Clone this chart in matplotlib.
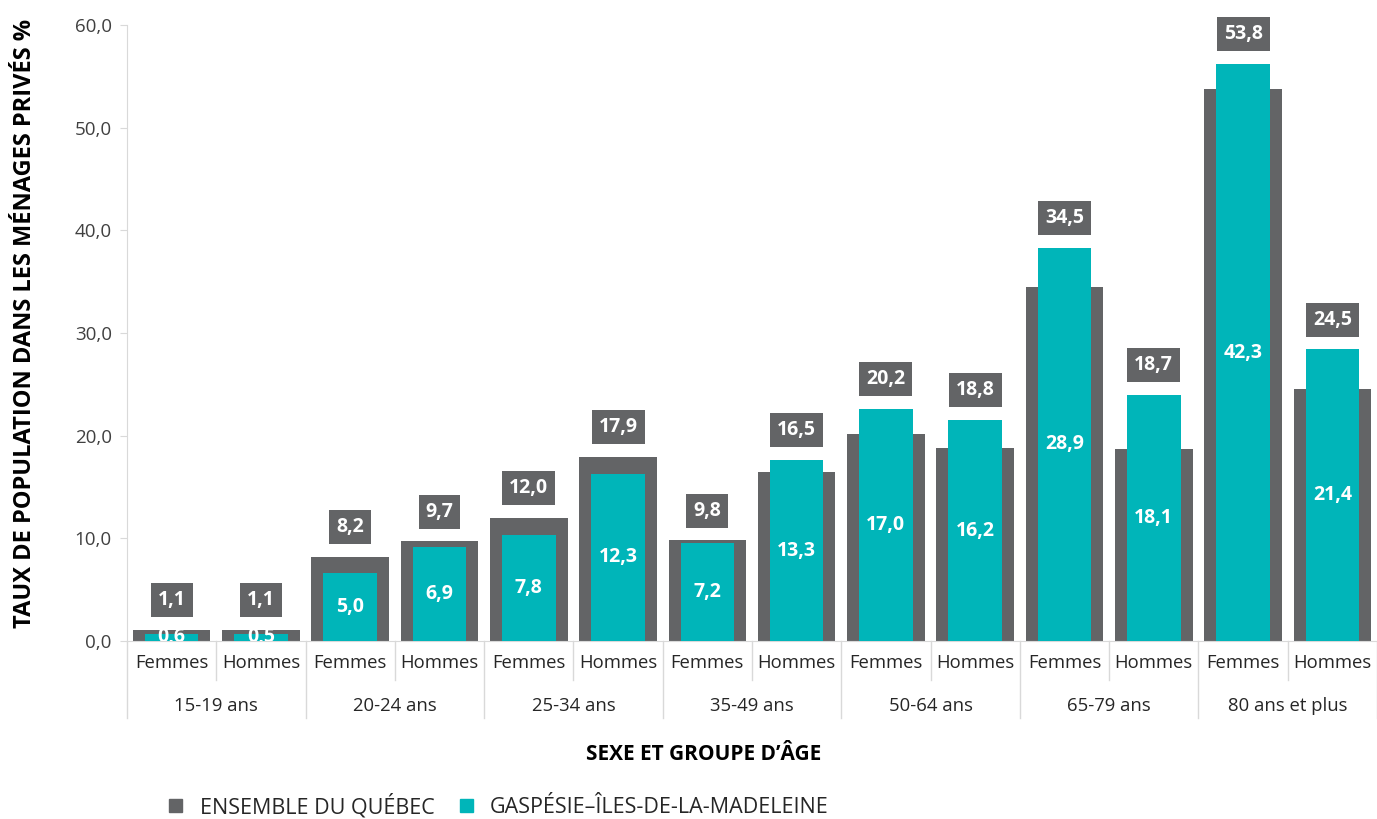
import matplotlib.pyplot as plt
from matplotlib.patches import Patch
from matplotlib.transforms import blended_transform_factory

plt.rcParams['font.family'] = ['Open Sans', 'DejaVu Sans']

groups = ['15-19 ans', '20-24 ans', '25-34 ans', '35-49 ans', '50-64 ans', '65-79 ans', '80 ans et plus']
sexes = ['Femmes', 'Hommes']

# Ensemble du Québec
quebec = [1.1, 1.1, 8.2, 9.7, 12.0, 17.9, 9.8, 16.5, 20.2, 18.8, 34.5, 18.7, 53.8, 24.5]
# Gaspésie–Îles-de-la-Madeleine : valeurs affichées
gaspesie = [0.6, 0.5, 5.0, 6.9, 7.8, 12.3, 7.2, 13.3, 17.0, 16.2, 28.9, 18.1, 42.3, 21.4]
# hauteurs des barres telles que tracées dans le graphique d'origine
gaspesie_bar = [0.7, 0.7, 6.6, 9.2, 10.3, 16.3, 9.5, 17.6, 22.6, 21.5, 38.3, 24.0, 56.2, 28.4]

grey = '#636466'
teal = '#00B5B9'
sep = '#d9d9d9'
txt = '#262626'

fig = plt.figure(figsize=(13.77, 8.19), dpi=100)
ax = fig.add_axes([127 / 1377, 178 / 819, 1 - 127 / 1377, 616 / 819])

x = list(range(len(quebec)))
ax.bar(x, quebec, width=0.87, color=grey, zorder=2)
ax.bar(x, gaspesie_bar, width=0.6, color=teal, zorder=3)

ax.set_xlim(-0.5, len(x) - 0.5)
ax.set_ylim(0, 60)
ax.set_yticks(range(0, 61, 10))
ax.set_yticklabels([f'{v},0' for v in range(0, 61, 10)], fontsize=13.5, color='#404040')
ax.tick_params(axis='y', length=5, color=sep, pad=6)
ax.set_xticks([])

for s in ['top', 'right']:
    ax.spines[s].set_visible(False)
ax.spines['left'].set_color(sep)
ax.spines['bottom'].set_color(sep)

# étiquettes des barres
for i in range(len(x)):
    ax.text(i, gaspesie_bar[i] / 2, f'{gaspesie[i]:.1f}'.replace('.', ','),
            ha='center', va='center', color='white', fontsize=14,
            fontweight='bold', zorder=4, clip_on=True)
    top = max(quebec[i], gaspesie_bar[i])
    ax.annotate(f'{quebec[i]:.1f}'.replace('.', ','), (i, top),
                xytext=(0, 21.5), textcoords='offset points',
                ha='center', va='center', color='white', fontsize=14,
                fontweight='bold', zorder=5,
                bbox=dict(boxstyle='square,pad=0.36', fc=grey, ec='none'))

# axe des catégories à deux niveaux
tr = blended_transform_factory(ax.transData, ax.transAxes)
for i in range(len(x)):
    ax.text(i, -0.036, sexes[i % 2], transform=tr, ha='center', va='center',
            fontsize=13.3, color=txt)
for g, name in enumerate(groups):
    ax.text(2 * g + 0.5, -0.105, name, transform=tr, ha='center', va='center',
            fontsize=13.3, color=txt)
    ax.plot([2 * g + 0.5] * 2, [0, -0.063], transform=tr, color=sep, lw=1, clip_on=False)
for b in range(len(groups) + 1):
    ax.plot([2 * b - 0.5] * 2, [0, -0.125], transform=tr, color=sep, lw=1, clip_on=False)

fig.text(704 / 1377, 1 - 755 / 819, 'SEXE ET GROUPE D’ÂGE', ha='center', va='center',
         fontsize=15, fontweight='bold', color='black')
fig.text(25 / 1377, 1 - 323 / 819, 'TAUX DE POPULATION DANS LES MÉNAGES PRIVÉS %',
         rotation=90, ha='center', va='center', fontsize=17, fontweight='bold', color='black')

handles = [Patch(color=grey, label='ENSEMBLE DU QUÉBEC'),
           Patch(color=teal, label='GASPÉSIE–ÎLES-DE-LA-MADELEINE')]
fig.legend(handles=handles, loc='center left', bbox_to_anchor=(150 / 1377, 1 - 806 / 819),
           ncol=2, frameon=False, fontsize=15.5, handlelength=0.6, handleheight=0.6,
           handletextpad=0.8, columnspacing=1.2, labelcolor=txt)

fig.savefig('out.png', dpi=100)
